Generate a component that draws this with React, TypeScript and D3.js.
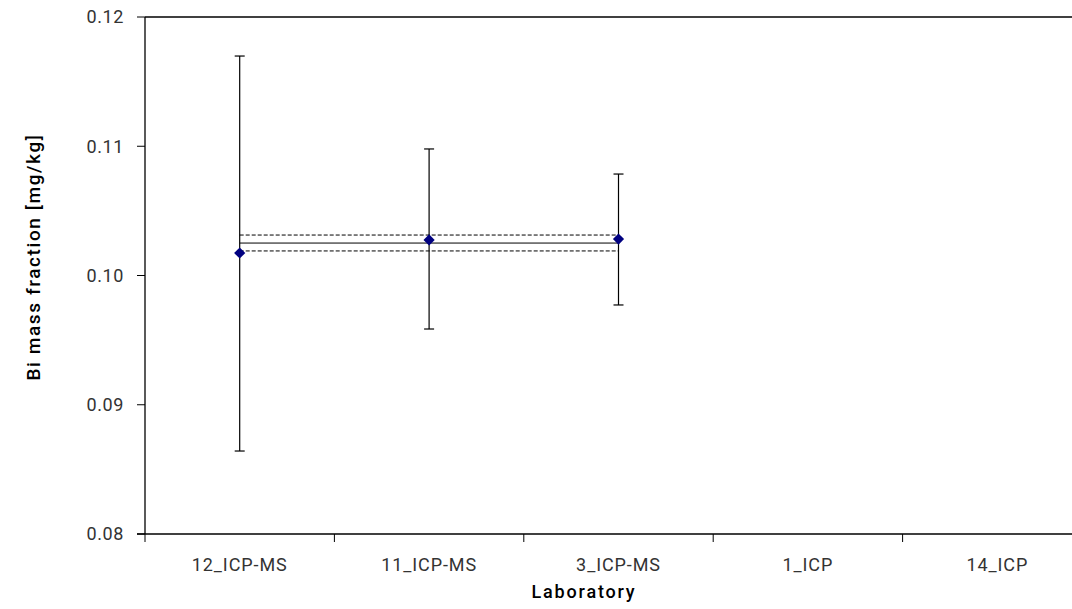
import React from 'react';
import * as d3 from 'd3';

const labs = ['12_ICP-MS', '11_ICP-MS', '3_ICP-MS', '1_ICP', '14_ICP'];
const measured = ['12_ICP-MS', '11_ICP-MS', '3_ICP-MS'];
const values = [0.10174, 0.10275, 0.10282];
const upper = [0.11698, 0.10979, 0.10785];
const lower = [0.08642, 0.09586, 0.09772];
const yTicks = [0.08, 0.09, 0.1, 0.11, 0.12];
const meanValue = 0.10251;
const meanBand = [0.1019, 0.10313];

const W = 1072;
const H = 609;
const margin = { left: 145, top: 17, right: -20, bottom: 75 };
const font = "Roboto, 'Noto Sans', sans-serif";

const App = () => {
  const x = d3.scaleBand().domain(labs).range([margin.left, W - margin.right]);
  const y = d3.scaleLinear().domain([0.08, 0.12]).range([H - margin.bottom, margin.top]);
  const bottom = y(0.08);
  const cx = (l: string) => (x(l) as number) + x.bandwidth() / 2;
  const x0 = cx(measured[0]);
  const x1 = cx(measured[measured.length - 1]);

  return (
    <svg width={W} height={H} style={{ position: 'absolute', left: 0, top: 0, background: '#fff' }}>
      {/* frame */}
      <line x1={margin.left} x2={W} y1={y(0.12)} y2={y(0.12)} stroke="#000" strokeWidth={1.3} />
      <line x1={margin.left} x2={margin.left} y1={y(0.12)} y2={bottom} stroke="#000" strokeWidth={1.3} />
      <line x1={margin.left - 8} x2={W} y1={bottom} y2={bottom} stroke="#000" strokeWidth={1.3} />

      {yTicks.map(t => (
        <g key={t}>
          <line x1={margin.left - 8} x2={margin.left} y1={y(t)} y2={y(t)} stroke="#000" />
          <text x={124} y={y(t)} dy="0.36em" textAnchor="end" fontSize={18} letterSpacing={0.6} fontFamily={font} fill="#333">
            {d3.format('.2f')(t)}
          </text>
        </g>
      ))}

      {labs.map(l => (
        <g key={l}>
          <line x1={x(l)} x2={x(l)} y1={bottom} y2={bottom + 8} stroke="#000" />
          <text x={cx(l)} y={571} textAnchor="middle" fontSize={18} letterSpacing={0.9} fontFamily={font} fill="#333">{l}</text>
        </g>
      ))}

      {/* mean and uncertainty band */}
      <line x1={x0} x2={x1} y1={y(meanValue)} y2={y(meanValue)} stroke="#000" strokeWidth={1} />
      {meanBand.map(v => (
        <line key={v} x1={x0} x2={x1} y1={y(v)} y2={y(v)} stroke="#000" strokeWidth={1} strokeDasharray="4,2" />
      ))}

      {/* error bars */}
      {measured.map((l, i) => (
        <g key={l}>
          <line x1={cx(l)} x2={cx(l)} y1={y(upper[i])} y2={y(lower[i])} stroke="#000" strokeWidth={1.2} />
          <line x1={cx(l) - 5} x2={cx(l) + 5} y1={y(upper[i])} y2={y(upper[i])} stroke="#000" strokeWidth={1.2} />
          <line x1={cx(l) - 5} x2={cx(l) + 5} y1={y(lower[i])} y2={y(lower[i])} stroke="#000" strokeWidth={1.2} />
          <path
            d={d3.symbol(d3.symbolDiamond2, 80)() as string}
            transform={`translate(${cx(l)},${y(values[i])})`}
            fill="#000080"
          />
        </g>
      ))}

      <text x={584} y={598} textAnchor="middle" fontSize={18} fontWeight={500} letterSpacing={1.8} fontFamily={font} fill="#000">
        Laboratory
      </text>
      <text
        transform={`translate(40,257) rotate(-90)`}
        textAnchor="middle"
        fontSize={19}
        fontWeight={500}
        letterSpacing={1.6}
        fontFamily={font}
        fill="#000"
      >
        Bi mass fraction [mg/kg]
      </text>
    </svg>
  );
};

export default App;
